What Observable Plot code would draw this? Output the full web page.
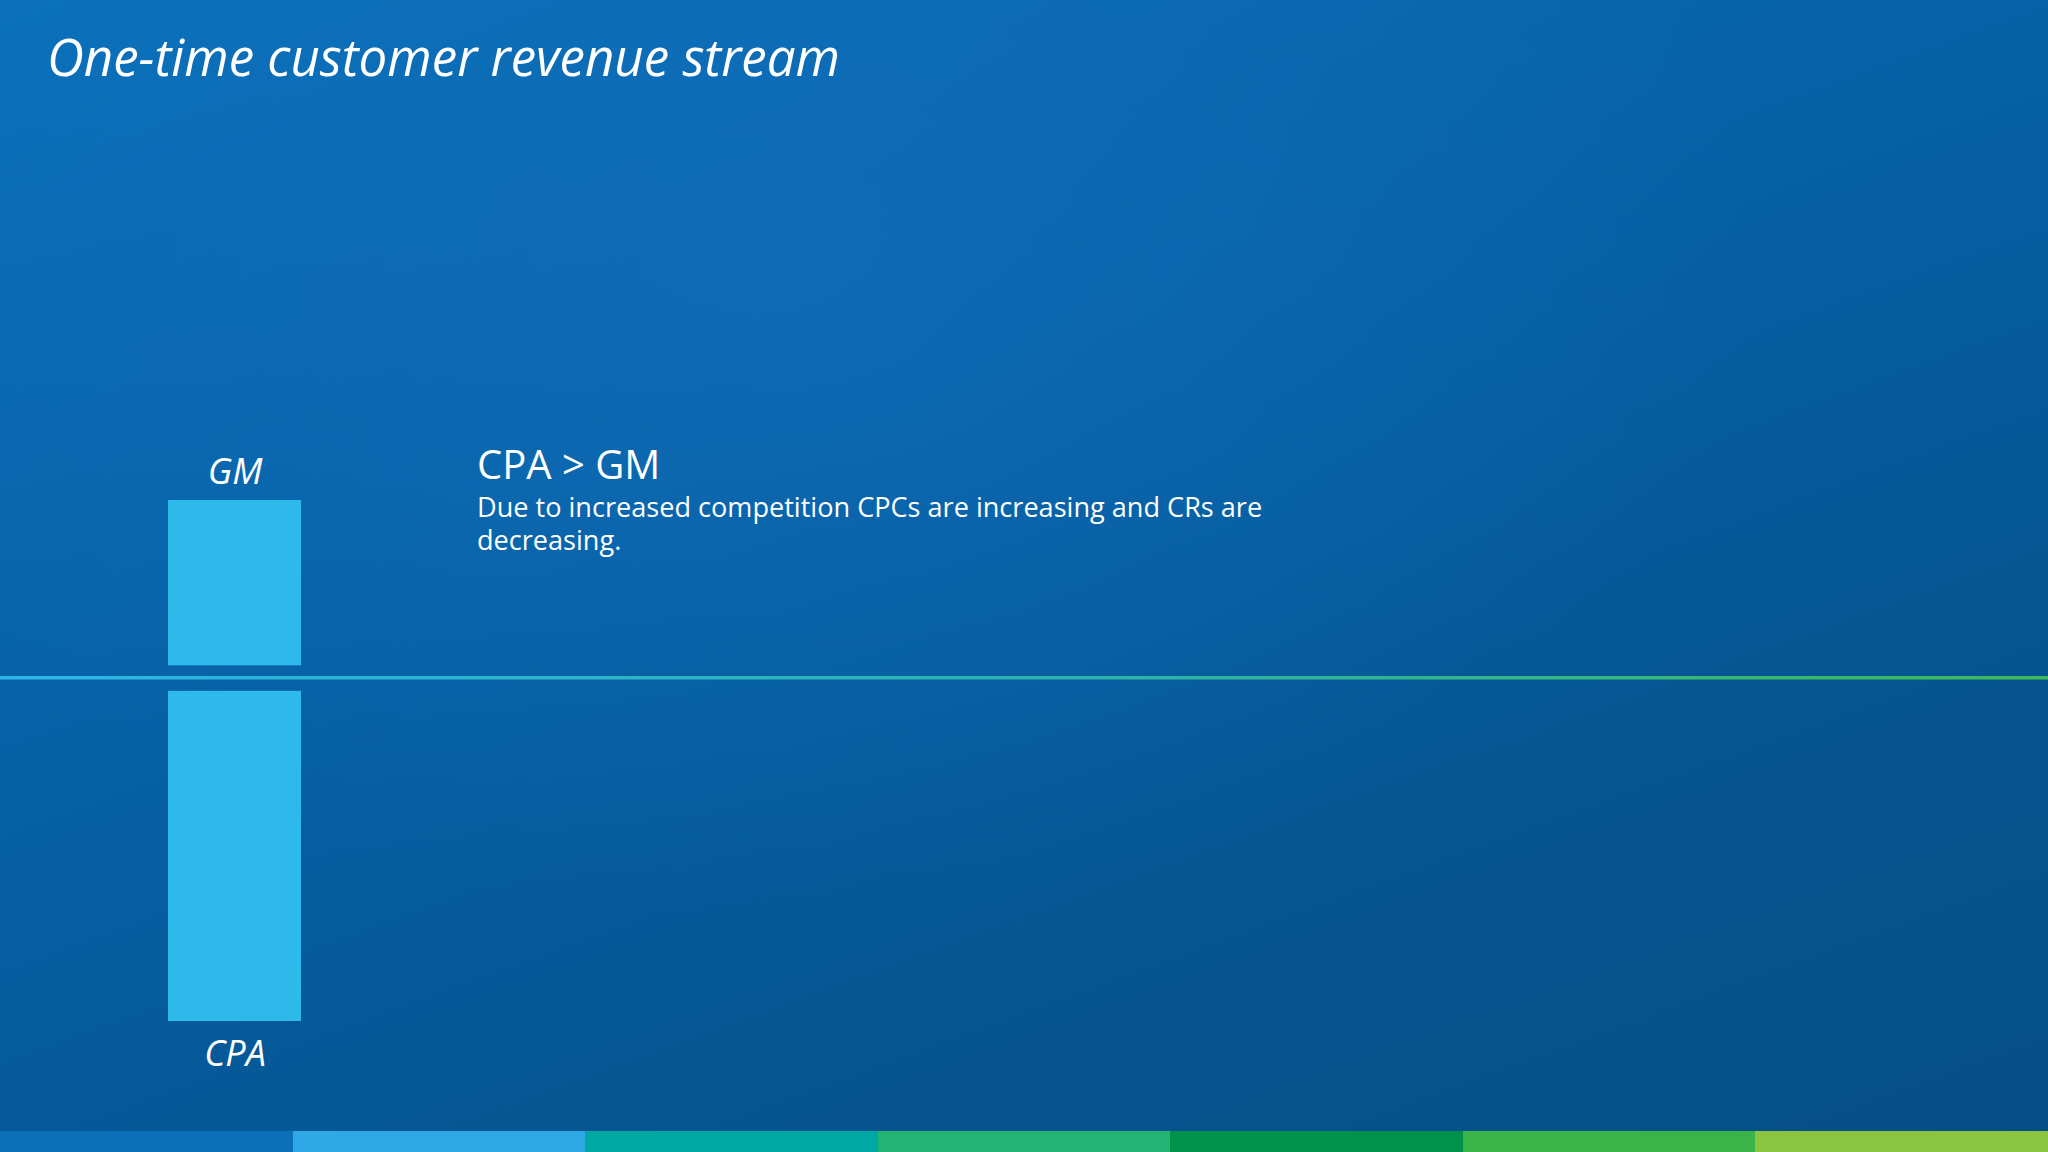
<!DOCTYPE html>
<html>
<head>
<meta charset="utf-8">
<script src="https://cdn.jsdelivr.net/npm/d3@7"></script>
<script src="https://cdn.jsdelivr.net/npm/@observablehq/plot@0.6"></script>
<style>
  html, body { margin: 0; padding: 0; }
  body {
    width: 2048px; height: 1152px; overflow: hidden; position: relative;
    font-family: "Open Sans", "Noto Sans", sans-serif; color: #fff;
    background:
      radial-gradient(ellipse 1400px 950px at 38% 22%, rgba(18,112,188,0.55), rgba(18,112,188,0) 70%),
      linear-gradient(160deg, #0a71bb 0%, #075fa3 45%, #05548f 75%, #054f89 100%);
  }
  #title {
    position: absolute; left: 47px; top: 31px;
    font-size: 51px; font-style: italic; font-weight: 400; line-height: 1;
    white-space: nowrap;
  }
  #note { position: absolute; left: 477px; top: 440px; }
  #note .head { font-size: 40px; line-height: 1.2; }
  #note .body { font-size: 27.1px; line-height: 33px; margin-top: 2px; }
  #chart { position: absolute; left: 0; top: 0; }
  #strip { position: absolute; left: 0; top: 1131px; width: 2048px; height: 21px; display: flex; }
  #strip div { flex: 1; }
</style>
</head>
<body>
<div id="title"></div>
<div id="note"><div class="head"></div><div class="body"></div></div>
<div id="chart"></div>
<div id="strip"></div>
<script>
// ---- data ----
const titleText = "One-time customer revenue stream";
const noteHead = "CPA > GM";
const noteBody = ["Due to increased competition CPCs are increasing and CRs are", "decreasing."];
const categories = ["GM", "CPA"];
const values = [177, -343];          // GM above the line, CPA below (relative size)
const stream = ["One-time", "One-time"];
const stripColors = ["#0b70b8", "#2ea9e5", "#00a8a3", "#21b472", "#00914a", "#3ab449", "#8bc43f"];

document.getElementById("title").textContent = titleText;
document.querySelector("#note .head").textContent = noteHead;
document.querySelector("#note .body").innerHTML = noteBody.join("<br>");
const strip = document.getElementById("strip");
stripColors.forEach(c => { const d = document.createElement("div"); d.style.background = c; strip.appendChild(d); });

const data = categories.map((c, i) => ({ cat: c, value: values[i], stream: stream[i] }));

const chart = Plot.plot({
  width: 2048,
  height: 1152,
  marginLeft: 0, marginRight: 0,
  marginTop: 500, marginBottom: 131,
  style: { background: "transparent", overflow: "visible" },
  x: { domain: ["One-time"], range: [168, 301], padding: 0, axis: null },
  y: { domain: [-343, 177], axis: null },
  marks: [
    Plot.barY(data.filter(d => d.value > 0), { x: "stream", y: "value", fill: "#2db9ea", insetBottom: 12 }),
    Plot.barY(data.filter(d => d.value < 0), { x: "stream", y: "value", fill: "#2db9ea", insetTop: 13.5 }),
    Plot.ruleY([0], { stroke: "url(#lineGrad)", strokeWidth: 3.5 }),
    Plot.text(data.filter(d => d.value > 0), { x: "stream", y: "value", text: "cat", lineAnchor: "bottom", dy: -17, fill: "white", fontSize: 36, fontStyle: "italic", fontFamily: "Open Sans" }),
    Plot.text(data.filter(d => d.value < 0), { x: "stream", y: "value", text: "cat", lineAnchor: "top", dy: 19, fill: "white", fontSize: 36, fontStyle: "italic", fontFamily: "Open Sans" })
  ]
});

const ns = "http://www.w3.org/2000/svg";
const defs = document.createElementNS(ns, "defs");
defs.innerHTML = `<linearGradient id="lineGrad" gradientUnits="userSpaceOnUse" x1="0" y1="0" x2="2048" y2="0">
  <stop offset="0" stop-color="#2cb6e8"/>
  <stop offset="0.5" stop-color="#2bb3b0"/>
  <stop offset="1" stop-color="#3db95a"/>
</linearGradient>`;
chart.insertBefore(defs, chart.firstChild);
document.getElementById("chart").appendChild(chart);
</script>
</body>
</html>
